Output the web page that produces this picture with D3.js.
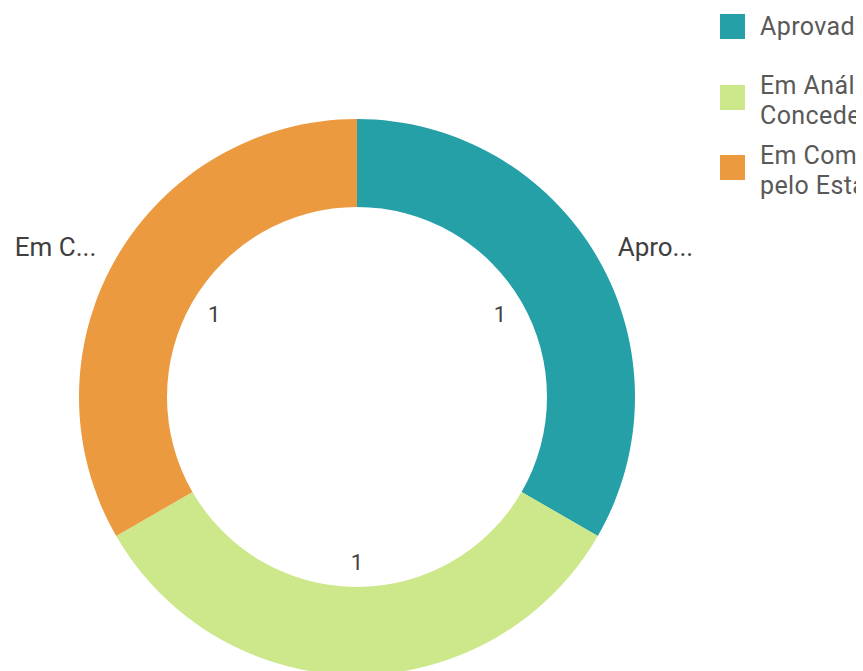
<!DOCTYPE html>
<html>
<head>
<meta charset="utf-8">
<script src="https://cdn.jsdelivr.net/npm/d3@7"></script>
<style>
  html, body { margin: 0; padding: 0; background: #fff; overflow: hidden; }
  svg { display: block; }
</style>
</head>
<body>
<div id="chart"></div>
<script>
(function () {
  "use strict";

  // status categories, values and colours
  var categories = ["Aprovado", "Em Análise pelo Concedente", "Em Complementação pelo Estado"];
  var shortLabels = ["Apro...", "Em A...", "Em C..."];
  var legendLines = [["Aprovado"], ["Em Análise pelo", "Concedente"], ["Em Complementação", "pelo Estado"]];
  var values = [1, 1, 1];
  var colors = ["#26a0a7", "#cce88a", "#eb9a40"];

  var W = 863, H = 671;
  var cx = 357, cy = 397, outer = 278, inner = 190;

  var svg = d3.select("#chart").append("svg").attr("width", W).attr("height", H);
  var g = svg.append("g").attr("transform", "translate(" + cx + "," + cy + ")");

  var data = categories.map(function (c, i) { return { cat: c, value: values[i], i: i }; });
  var pie = d3.pie().sort(null).value(function (d) { return d.value; });
  var arcs = pie(data);
  var arc = d3.arc().innerRadius(inner).outerRadius(outer);
  var valueArc = d3.arc().innerRadius(165).outerRadius(165);
  var labelArc = d3.arc().innerRadius(301).outerRadius(301);

  g.selectAll("path.slice").data(arcs).join("path")
    .attr("class", "slice")
    .attr("d", arc)
    .attr("fill", function (d) { return colors[d.data.i]; });

  // value labels inside the hole
  g.selectAll("text.val").data(arcs).join("text")
    .attr("class", "val")
    .attr("transform", function (d) { return "translate(" + valueArc.centroid(d) + ")"; })
    .attr("text-anchor", "middle").attr("dy", "0.35em")
    .style("font-family", "Roboto, sans-serif").style("font-size", "22px")
    .attr("fill", "#404040")
    .text(function (d) { return d.data.value; });

  // truncated category labels outside (the bottom one falls below the view, so skip it)
  var visible = arcs.filter(function (d) { return cy + labelArc.centroid(d)[1] < H - 10; });
  g.selectAll("text.cat").data(visible).join("text")
    .attr("class", "cat")
    .attr("transform", function (d) { return "translate(" + labelArc.centroid(d) + ")"; })
    .attr("text-anchor", function (d) {
      var m = (d.startAngle + d.endAngle) / 2;
      return Math.abs(Math.sin(m)) < 0.1 ? "middle" : (Math.sin(m) > 0 ? "start" : "end");
    })
    .attr("dy", "0.35em")
    .style("font-family", "Roboto, sans-serif").style("font-size", "26px")
    .attr("fill", "#404040")
    .text(function (d) { return shortLabels[d.data.i]; });

  // legend, clipped just short of the right edge
  svg.append("clipPath").attr("id", "legclip")
    .append("rect").attr("x", 0).attr("y", 0).attr("width", 136).attr("height", H);
  var legendY = [14, 85, 155];
  var lg = svg.append("g").attr("transform", "translate(720,0)").attr("clip-path", "url(#legclip)");
  var items = lg.selectAll("g").data(data).join("g")
    .attr("transform", function (d) { return "translate(0," + legendY[d.i] + ")"; });
  items.append("rect").attr("width", 25).attr("height", 25)
    .attr("fill", function (d) { return colors[d.i]; });
  items.append("text")
    .attr("x", 40)
    .style("font-family", "Roboto, sans-serif").style("font-size", "25px")
    .style("letter-spacing", "0.4px")
    .attr("fill", "#595959")
    .each(function (d) {
      var lines = legendLines[d.i], t = d3.select(this);
      var y0 = lines.length === 1 ? 21 : 9;
      lines.forEach(function (ln, k) {
        t.append("tspan").attr("x", 40).attr("y", y0 + k * 30).text(ln);
      });
    });
})();
</script>
</body>
</html>
